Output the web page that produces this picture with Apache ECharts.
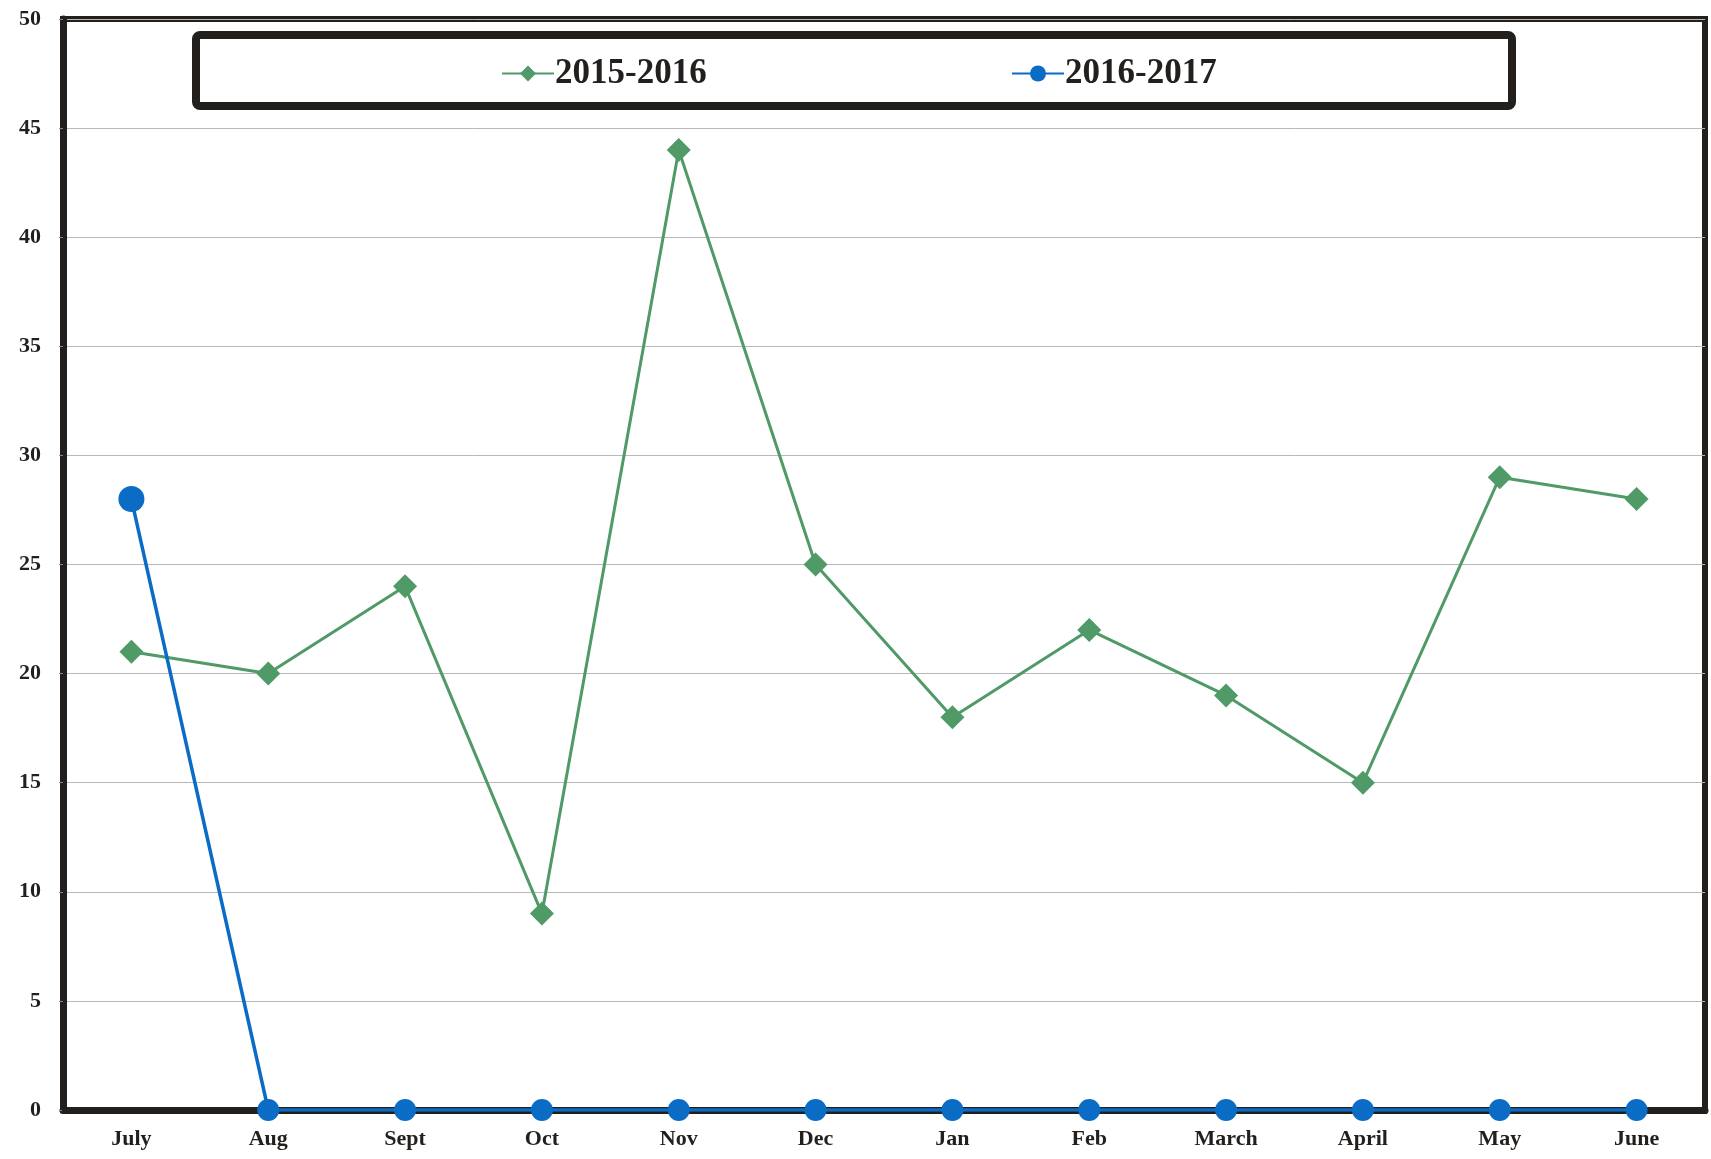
<!DOCTYPE html>
<html><head><meta charset="utf-8">
<script src="https://cdn.jsdelivr.net/npm/echarts@6/dist/echarts.min.js"></script>
<style>html,body{margin:0;padding:0;background:#fff;}#c{width:1711px;height:1159px;}</style>
</head><body><div id="c"></div>
<script>
const categories = ['July','Aug','Sept','Oct','Nov','Dec','Jan','Feb','March','April','May','June'];
const series2015 = [21,20,24,9,44,25,18,22,19,15,29,28];
const series2016 = [28,0,0,0,0,0,0,0,0,0,0,0];
const yTicks = {min:0, max:50, interval:5};

const chart = echarts.init(document.getElementById('c'));
const font = '"Liberation Serif","Times New Roman",serif';
chart.setOption({
  animation:false,
  backgroundColor:'#fff',
  grid:{left:63,right:6,top:19,bottom:49,show:true,borderColor:'#231f1c',borderWidth:6,containLabel:false},
  graphic:[{type:'rect',shape:{x:196,y:35,width:1316,height:71,r:4},style:{fill:'#fff',stroke:'#231f1c',lineWidth:8},z:5}],
  legend:[
    {data:['2015-2016'],left:496,top:51,itemWidth:52,itemHeight:20,itemGap:0,z:10,
     textStyle:{fontFamily:font,fontWeight:'bold',fontSize:35,color:'#231f1c',padding:[0,0,0,-4]}},
    {data:['2016-2017'],left:1006,top:51,itemWidth:52,itemHeight:20,itemGap:0,z:10,
     textStyle:{fontFamily:font,fontWeight:'bold',fontSize:35,color:'#231f1c',padding:[0,0,0,-4]}}
  ],
  xAxis:{type:'category',data:categories,boundaryGap:true,
    axisLine:{lineStyle:{color:'#231f1c',width:7}},
    axisTick:{show:true,length:4,lineStyle:{color:'#231f1c',width:3}},
    axisLabel:{fontFamily:font,fontWeight:'bold',fontSize:22,color:'#231f1c',margin:18},
    splitLine:{show:false}},
  yAxis:{type:'value',min:yTicks.min,max:yTicks.max,interval:yTicks.interval,
    axisLine:{show:true,lineStyle:{color:'#231f1c',width:7}},
    axisTick:{show:true,length:4,lineStyle:{color:'#888',width:1}},
    axisLabel:{fontFamily:font,fontWeight:'bold',fontSize:22,color:'#231f1c',margin:22},
    splitLine:{show:true,lineStyle:{color:'#b8b8b8',width:1}}},
  series:[
    {name:'2015-2016',type:'line',data:series2015,symbol:'diamond',symbolSize:24,
     itemStyle:{color:'#4f9a66'},lineStyle:{color:'#4f9a66',width:3},z:3},
    {name:'2016-2017',type:'line',data:series2016,symbol:'circle',
     symbolSize:function(v,p){return p.dataIndex===0?26:22;},
     itemStyle:{color:'#0b6cc6'},lineStyle:{color:'#0b6cc6',width:3.5},z:4}
  ]
});
</script></body></html>
